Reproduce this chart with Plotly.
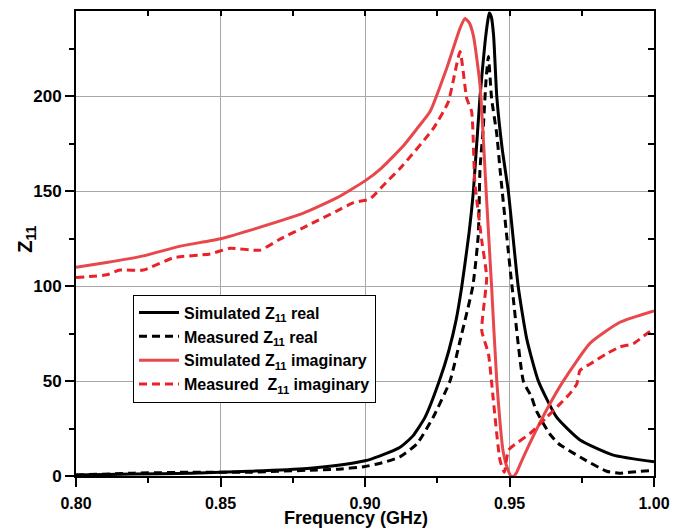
import plotly.graph_objects as go

# ---------------- data ----------------
sim_real_f = [0.800, 0.820, 0.840, 0.860, 0.880, 0.890, 0.900, 0.905, 0.912, 0.9165, 0.9208,
              0.9257, 0.929, 0.9315, 0.9335, 0.936, 0.9375, 0.9398, 0.9415, 0.9425, 0.943,
              0.9437, 0.9445, 0.9456, 0.9475, 0.9496, 0.953, 0.956, 0.960, 0.9663, 0.9744,
              0.9859, 1.000]
sim_real_z = [0.5, 1.0, 1.5, 2.5, 4.0, 5.5, 8.0, 10.5, 15, 21, 31,
              50, 66, 82, 100, 128, 150, 200, 228, 240, 244,
              242, 232, 200, 172, 150, 100, 72, 50, 31, 19,
              11, 7.5]

meas_real_f = [0.800, 0.820, 0.840, 0.860, 0.880, 0.890, 0.900, 0.906, 0.912, 0.918, 0.9236,
               0.9294, 0.933, 0.9373, 0.9392, 0.9398, 0.9409, 0.9419, 0.9427, 0.9438, 0.9456,
               0.9467, 0.949, 0.9508, 0.9548, 0.9575, 0.9594, 0.964, 0.967, 0.9744, 0.9836,
               0.988, 0.9952, 1.000]
meas_real_z = [0.5, 1.5, 2.0, 2.0, 3.0, 3.5, 5.0, 7.0, 10, 17, 31,
               50, 72, 100, 127, 162, 183, 209, 221, 199, 180,
               162, 127, 101, 50, 42, 34, 22, 17, 10, 2.5,
               1.5, 2.5, 3.0]

sim_imag_f = [0.800, 0.8106, 0.8233, 0.8358, 0.850, 0.8624, 0.8787, 0.8902, 0.900,
              0.9055, 0.9133, 0.918, 0.9225, 0.9283, 0.9329, 0.9346, 0.936, 0.9375, 0.9398,
              0.9421, 0.9438, 0.9456, 0.9479, 0.9495, 0.9505, 0.9515, 0.9525, 0.9548, 0.9629,
              0.9686, 0.9779, 0.9882, 1.000]
sim_imag_z = [110, 112.5, 116, 121, 125, 130.5, 138.5, 146.5, 155.5,
              162, 174, 183, 192, 215, 236, 241, 239, 232, 206,
              145, 100, 50, 12, 3, 0, 0, 2, 10, 35,
              50, 70, 81, 87]

meas_imag_f = [0.800, 0.8106, 0.8152, 0.8233, 0.8337, 0.8464, 0.8533, 0.8637, 0.8706, 0.881,
               0.8902, 0.896, 0.9017, 0.9075, 0.9121, 0.9236, 0.9288, 0.9305, 0.9329, 0.9352,
               0.9369, 0.938, 0.9404, 0.9421, 0.9404, 0.9427, 0.9444, 0.9467, 0.9482, 0.9496,
               0.9513, 0.9571, 0.9629, 0.9675, 0.9709, 0.9733, 0.9744, 0.9779, 0.9836, 0.9882,
               0.9928, 0.9975, 0.9992]
meas_imag_z = [104.6, 106, 108.5, 108.5, 115, 117, 120, 119, 124.8, 132.6,
               139.6, 144, 146, 155, 162, 183, 197, 208, 223.6, 199,
               192, 155, 124, 104.6, 76.6, 64.5, 40, 8.4, 2, 13.6,
               16, 22.4, 31, 38, 43.4, 48.6, 55.6, 59, 64.4, 68,
               69.7, 75, 76.6]

x_ticks = [0.80, 0.85, 0.90, 0.95, 1.00]
x_ticklabels = ["0.80", "0.85", "0.90", "0.95", "1.00"]
y_ticks = [0, 50, 100, 150, 200]
y_ticklabels = ["0", "50", "100", "150", "200"]

series_names = ["Simulated Z<sub>11</sub> real",
                "Measured Z<sub>11</sub> real",
                "Simulated Z<sub>11</sub> imaginary",
                "Measured  Z<sub>11</sub> imaginary"]

# ---------------- figure ----------------
FONT = "Liberation Sans, Arial, sans-serif"
BLACK = "#000000"
RED_SOLID = "#e8474c"
RED_DASH = "#e82228"
DASH = "8px,5px"

fig = go.Figure()
fig.add_trace(go.Scatter(x=sim_real_f, y=sim_real_z, mode="lines", name=series_names[0],
                         line=dict(color=BLACK, width=3, shape="spline", smoothing=0.5)))
fig.add_trace(go.Scatter(x=meas_real_f, y=meas_real_z, mode="lines", name=series_names[1],
                         line=dict(color=BLACK, width=3, dash=DASH, shape="spline", smoothing=0.5)))
fig.add_trace(go.Scatter(x=sim_imag_f, y=sim_imag_z, mode="lines", name=series_names[2],
                         line=dict(color=RED_SOLID, width=3, shape="spline", smoothing=0.5)))
fig.add_trace(go.Scatter(x=meas_imag_f, y=meas_imag_z, mode="lines", name=series_names[3],
                         line=dict(color=RED_DASH, width=3, dash=DASH, shape="spline", smoothing=0.5)))
# helper trace so the top/right mirror axes (inward ticks) get drawn
fig.add_trace(go.Scatter(x=[None], y=[None], xaxis="x2", yaxis="y2", showlegend=False,
                         hoverinfo="skip"))

XR = [0.8, 1.0]
YR = [0, 245]

# page has an 8px body margin, so the figure is sized/offset to compensate
fig.update_layout(
    width=678, height=521,
    margin=dict(l=68, r=32, t=1, b=53),
    paper_bgcolor="white", plot_bgcolor="white",
    font=dict(family=FONT, size=17, color="black", weight="bold"),
    showlegend=True,
    legend=dict(x=0.0986, y=0.39, xanchor="left", yanchor="top",
                bgcolor="white", bordercolor="black", borderwidth=1,
                font=dict(family=FONT, size=16, color="black", weight="bold"),
                tracegroupgap=0, itemwidth=40),
    xaxis=dict(range=XR, tickvals=x_ticks, ticktext=x_ticklabels,
               ticks="outside", ticklen=9, tickwidth=2, tickcolor="black",
               ticklabelstandoff=3,
               showline=True, linewidth=2, linecolor="black", mirror=True,
               showgrid=True, gridcolor="#a8a8a8", gridwidth=1, zeroline=False,
               minor=dict(dtick=0.025, ticks="outside", ticklen=5, tickwidth=2,
                          tickcolor="black", showgrid=False),
               tickfont=dict(size=16)),
    yaxis=dict(range=YR, tickvals=y_ticks, ticktext=y_ticklabels,
               ticks="outside", ticklen=9, tickwidth=2, tickcolor="black",
               showline=True, linewidth=2, linecolor="black", mirror=True,
               showgrid=True, gridcolor="#a8a8a8", gridwidth=1, zeroline=False,
               minor=dict(dtick=25, ticks="outside", ticklen=5, tickwidth=2,
                          tickcolor="black", showgrid=False),
               tickfont=dict(size=17)),
    xaxis2=dict(range=XR, overlaying="x", side="top", anchor="y2",
                dtick=0.025, tick0=0.8, ticks="inside", ticklen=5, tickwidth=2,
                tickcolor="black", showticklabels=False, showgrid=False,
                showline=False, zeroline=False),
    yaxis2=dict(range=YR, overlaying="y", side="right", anchor="x2",
                dtick=25, tick0=0, ticks="inside", ticklen=6, tickwidth=2,
                tickcolor="black", showticklabels=False, showgrid=False,
                showline=False, zeroline=False),
    annotations=[
        dict(text="Frequency (GHz)", xref="paper", yref="paper", x=0.485, y=-0.0905,
             xanchor="center", yanchor="middle", showarrow=False,
             font=dict(family=FONT, size=18, color="black", weight="bold")),
        dict(text="Z<sub>11</sub>", xref="paper", yref="paper", x=-0.085, y=0.51,
             xanchor="center", yanchor="middle", showarrow=False, textangle=-90,
             font=dict(family=FONT, size=20, color="black", weight="bold")),
    ],
)

fig.write_html("out.html")
